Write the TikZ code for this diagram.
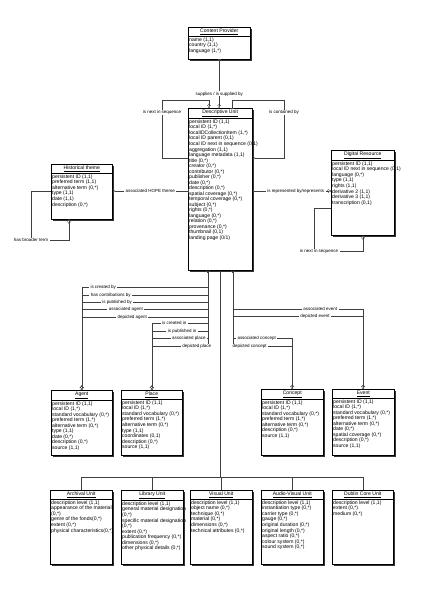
\documentclass[tikz,border=0pt]{standalone}
\usepackage{fontspec}
\setmainfont{Liberation Sans}
\usetikzlibrary{positioning, calc, shadows, arrows.meta}

\newcommand{\efont}{\fontsize{5.1}{5.55}\selectfont}
\newcommand{\lfont}{\fontsize{4.5}{5}\selectfont}

% entity box: name, x, y, width, height, title, rows
\newcommand{\entity}[7]{%
  \node[entity, minimum width=#4bp, minimum height=#5bp] (#1) at (#2,#3) {};
  \node[etitle] (#1t) at ([yshift=-0.8bp]#1.north) {\underline{#6}};
  \draw[line width=0.4bp] (#1t.south -| #1.west) -- (#1t.south -| #1.east);
  \node[erows] (#1r) at ([yshift=-0.6bp]#1t.south -| #1.west) {#7};
}

\tikzset{
  erOne/.tip={Bar[width=3.2bp, line width=0.4bp]},
  erMany/.tip={Straight Barb[reversed, length=2bp, width=3.6bp, line width=0.4bp]},
  erOMany/.tip={Straight Barb[reversed, length=2bp, width=3.6bp, line width=0.4bp] Circle[open, length=1.8bp, width=1.8bp, fill=white, line width=0.4bp]}
}

\begin{document}
\begin{tikzpicture}[
    x=1bp, y=-1bp,
    entity/.style={draw, fill=white, line width=0.5bp, anchor=north west, inner sep=0pt,
      drop shadow={shadow xshift=2bp, shadow yshift=-2bp, fill=black!80, opacity=1}},
    etitle/.style={anchor=north, inner xsep=1bp, inner ysep=1bp, font=\efont},
    erows/.style={anchor=north west, align=left, inner xsep=1bp, inner ysep=1bp, font=\efont},
    rel/.style={draw=black!75, line width=0.45bp},
    lbl/.style={fill=white, inner xsep=1.5bp, inner ysep=0.4bp, font=\lfont}
]
\useasboundingbox[fill=white] (0,0) rectangle (423,600);

\entity{cp}{188}{27}{62}{32}{Content Provider}{name (1,1)\\country (1,1)\\language (1,*)}
\entity{du}{188}{108}{64}{162}{Descriptive Unit}{persistent ID (1,1)\\local ID (1,*)\\localIDCollectionItem (1,*)\\local ID parent (0,1)\\local ID next in sequence (0,1)\\aggregation (1,1)\\language metadata (1,1)\\title (0,*)\\creator (0,*)\\contributor (0,*)\\publisher (0,*)\\date (0,*)\\description (0,*)\\spatial coverage (0,*)\\temporal coverage (0,*)\\subject (0,*)\\rights (0,*)\\language (0,*)\\relation (0,*)\\provenance (0,*)\\thumbnail (0,1)\\landing page (0/1)}
\entity{ht}{51}{164}{61}{55}{Historical theme}{persistent ID (1,1)\\preferred term (1,1)\\alternative term (0,*)\\type (1,1)\\date (1,1)\\description (0,*)}
\entity{dr}{331}{150}{63}{85}{Digital Resource}{persistent ID (1,1)\\local ID next in sequence (0,1)\\language (0,*)\\type (1,1)\\rights (1,1)\\derivative 2 (1,1)\\derivative 3 (1,1)\\transcription (0,1)}

\entity{agent}{51}{390}{61}{65}{Agent}{persistent ID (1,1)\\local ID (1,*)\\standard vocabulary (0,*)\\preferred term (1,*)\\alternative term (0,*)\\type (1,1)\\date (0,*)\\description (0,*)\\source (1,1)}
\entity{place}{121}{390}{61}{65}{Place}{persistent ID (1,1)\\local ID (1,*)\\standard vocabulary (0,*)\\preferred term (1,*)\\alternative term (0,*)\\type (1,1)\\coordinates (0,1)\\description (0,*)\\source (1,1)}
\entity{concept}{261}{389}{62}{66}{Concept}{persistent ID (1,1)\\local ID (1,*)\\standard vocabulary (0,*)\\preferred term (1,*)\\alternative term (0,*)\\description (0,*)\\source (1,1)}
\entity{event}{332}{389}{62}{66}{Event}{persistent ID (1,1)\\local ID (1,*)\\standard vocabulary (0,*)\\preferred term (1,*)\\alternative term (0,*)\\date (0,*)\\spatial coverage (0,*)\\description (0,*)\\source (1,1)}

\entity{archival}{50}{490}{62}{74}{Archival Unit}{description level (1,1)\\appearance of the material\\(0,*)\\genre of the fonds(0,*)\\extent (0,*)\\physical characteristics(0,*)}
\entity{library}{121}{490}{62}{74}{Library Unit}{description level (1,1)\\general material designation\\(0,*)\\specific material designation\\(0,*)\\extent (0,*)\\publication frequency (0,*)\\dimensions (0,*)\\other physical details (0,*)}
\entity{visual}{190}{490}{62}{74}{Visual Unit}{description level (1,1)\\object name (0,*)\\technique (0,*)\\material (0,*)\\dimensions (0,*)\\technical attributes (0,*)}
\entity{av}{261}{490}{62}{74}{Audio-Visual Unit}{description level (1,1)\\instantiation type (0,*)\\carrier type (0,*)\\gauge (0,*)\\original duration (0,*)\\original length (0,*)\\aspect ratio (0,*)\\colour system (0,*)\\sound system (0,*)}
\entity{dc}{332}{490}{61}{74}{Dublin Core Unit}{description level (1,1)\\extent (0,*)\\medium (0,*)}

\coordinate (dua) at ([xshift=20bp]du.south west);
\coordinate (duc) at ([xshift=45bp]du.south west);

\draw[rel, erOne-erOMany] (cp.south) -- node[lbl, pos=.71]{supplies / is supplied by} (cp.south |- du.north);
\draw[rel, -erOMany] ([yshift=-50bp]du.north west) -| node[lbl, pos=.89]{is next in sequence} (162,100) -| ([xshift=21bp]du.north west);
\draw[rel, erMany-erOne] ([yshift=-50bp]du.north east) -| node[lbl, pos=.89]{is contained by} (284,100) -| ([xshift=44bp]du.north west);

\draw[rel, erMany-erOne] (ht.east |- 0,191) -- node[lbl]{associated HOPE theme} (du.west |- 0,191);
\draw[rel, -erOMany] (ht.west |- 0,191) -| (31,240) -| node[lbl, pos=0]{has broader term} ([xshift=18bp]ht.south west);
\draw[rel, erOne-erOMany] (du.east |- 0,191) -- node[lbl, pos=.55]{is represented by/represents} (dr.west |- 0,191);
\draw[rel, -erOMany] (dr.west |- 0,208) -| (314,251) -| node[lbl, pos=0, xshift=5bp]{is next in sequence} ([xshift=32bp]dr.south west);

\draw[rel, erMany-erOMany] (dua) |- node[lbl, pos=.915]{is created by} (agent.north |- 0,287) -- (agent.north);
\draw[rel, erMany-erOMany] (dua) |- node[lbl, pos=.885]{has contributions by} (agent.north |- 0,295) -- (agent.north);
\draw[rel, erMany-erOMany] (dua) |- node[lbl, pos=.86]{is published by} (agent.north |- 0,302) -- (agent.north);
\draw[rel, erMany-erOMany] (dua) |- node[lbl, pos=.825]{associated agent} (agent.north |- 0,309) -- (agent.north);
\draw[rel, erMany-erOMany] (dua) |- node[lbl, pos=.8]{depicted agent} (agent.north |- 0,317) -- (agent.north);

\draw[rel, erMany-erOMany] (dua) |- node[lbl, pos=.8]{is created in} (place.north |- 0,323) -- (place.north);
\draw[rel, erMany-erOMany] (dua) |- node[lbl, pos=.73]{is published in} (place.north |- 0,331) -- (place.north);
\draw[rel, erMany-erOMany] (dua) |- node[lbl, pos=.67]{associated place} (place.north |- 0,338) -- (place.north);
\draw[rel, erMany-erOMany] (dua) |- node[lbl, pos=.6]{depicted place} (place.north |- 0,346) -- (place.north);

\draw[rel, erMany-erOMany] (duc) |- node[lbl, pos=.835]{associated event} (event.north |- 0,309) -- (event.north);
\draw[rel, erMany-erOMany] (duc) |- node[lbl, pos=.815]{depicted event} (event.north |- 0,316) -- (event.north);
\draw[rel, erMany-erOMany] (duc) |- node[lbl, pos=.7]{associated concept} (concept.north |- 0,338) -- (concept.north);
\draw[rel, erMany-erOMany] (duc) |- node[lbl, pos=.64]{depicted concept} (concept.north |- 0,346) -- (concept.north);

\foreach \u in {archival, library, visual, av, dc}
  \draw[rel] (du.south) -- (du.south |- 0,477) -| (\u.north);

\end{tikzpicture}
\end{document}
